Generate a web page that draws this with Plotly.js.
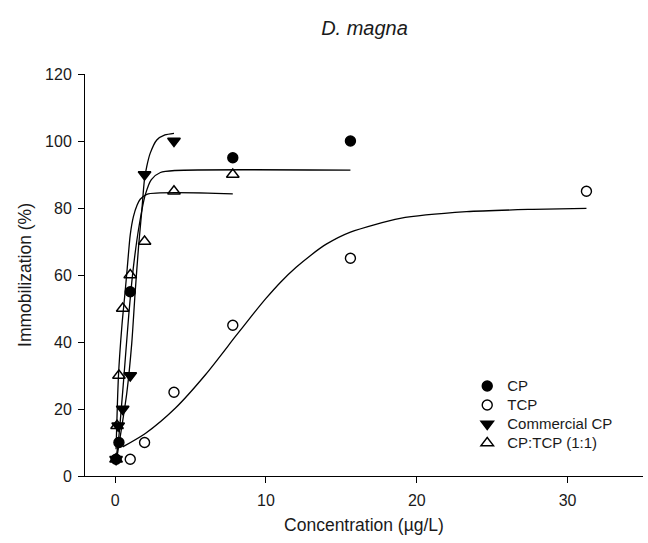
<!DOCTYPE html>
<html>
<head>
<meta charset="utf-8">
<script src="https://cdn.plot.ly/plotly-3.0.1.min.js"></script>
<style>html,body{margin:0;padding:0;background:#fff;}#chart{width:648px;height:543px;}</style>
</head>
<body>
<div id="chart"></div>
<script>
// Observed data (concentration in µg/L, immobilization in %)
const cpX = [0.06, 0.25, 1, 7.8, 15.6];
const cpY = [5, 10, 55, 95, 100];
const tcpX = [1, 1.95, 3.9, 7.8, 15.6, 31.25];
const tcpY = [5, 10, 25, 45, 65, 85];
const comX = [0.06, 0.2, 0.5, 1, 1.95, 3.9];
const comY = [5, 15, 20, 30, 90, 100];
const mixX = [0.06, 0.125, 0.25, 0.5, 1, 1.95, 3.9, 7.8];
const mixY = [5, 15, 30, 50, 60, 70, 85, 90];

// Fitted curves
const cpFitX = [0.06, 0.25, 0.55, 0.9, 1.2, 1.6, 2.0, 2.4, 3.0, 4.0, 15.6];
const cpFitY = [5, 12, 28, 48, 62, 75, 84, 88.5, 90.6, 91.2, 91.3];
const tcpFitX = [0.5, 2, 4, 6, 8, 9, 10, 11, 12, 13, 14, 15.6, 18.9, 23.3, 27.7, 31.25];
const tcpFitY = [8.7, 12.7, 20.3, 30.3, 41.8, 47.5, 53, 58, 62.3, 66, 69.2, 72.8, 76.9, 78.9, 79.6, 79.9];
const comFitX = [0.06, 0.44, 0.77, 1.1, 1.32, 1.55, 1.77, 1.94, 2.1, 2.32, 2.76, 3.3, 3.9];
const comFitY = [4, 14.7, 24.7, 39.6, 54.5, 68.4, 79.4, 88.4, 92.5, 96.3, 100.3, 101.8, 102.3];
const mixFitX = [0.06, 0.22, 0.45, 0.66, 0.8, 1.0, 1.21, 1.45, 1.66, 2.1, 7.8];
const mixFitY = [8, 30, 45, 55, 62, 72, 77.4, 80.8, 82.6, 84.1, 84.2];

const names = ['CP', 'TCP', 'Commercial CP', 'CP:TCP (1:1)'];

const lineStyle = {color: '#000', width: 1.3, shape: 'spline', smoothing: 0.7};
function fit(x, y) {
  return {x: x, y: y, mode: 'lines', line: lineStyle, showlegend: false, hoverinfo: 'skip'};
}
function pts(x, y, name, symbol, size) {
  return {x: x, y: y, mode: 'markers',
    name: '<span style="font-size:15px">' + name + '</span>',
    marker: {symbol: symbol, size: size, color: '#000', line: {color: '#000', width: 1.4}}};
}

const data = [
  fit(cpFitX, cpFitY),
  fit(tcpFitX, tcpFitY),
  fit(comFitX, comFitY),
  fit(mixFitX, mixFitY),
  pts(cpX, cpY, names[0], 'circle', 10),
  pts(tcpX, tcpY, names[1], 'circle-open', 10),
  pts(comX, comY, names[2], 'triangle-down', 11),
  pts(mixX, mixY, names[3], 'triangle-up-open', 11)
];

const font = {family: 'Liberation Sans, Arial, sans-serif', color: '#1a1a1a'};

const layout = {
  width: 648, height: 543,
  margin: {l: 85, r: 5, t: 74, b: 67},
  paper_bgcolor: '#fff', plot_bgcolor: '#fff',
  font: Object.assign({size: 15}, font),
  title: {text: '<i>D. magna</i>', x: 0.5625, xanchor: 'center', y: 0.948, yanchor: 'middle',
    font: Object.assign({size: 20}, font)},
  xaxis: {
    range: [-2, 35], tickvals: [0, 10, 20, 30], ticks: 'outside', ticklen: 6, tickwidth: 1,
    tickcolor: '#000', showline: true, linecolor: '#000', linewidth: 1, ticklabelstandoff: 4,
    showgrid: false, zeroline: false, tickfont: Object.assign({size: 16}, font),
    title: {text: 'Concentration (µg/L)', font: Object.assign({size: 17.5}, font), standoff: 10}
  },
  yaxis: {
    range: [0, 120], tickvals: [0, 20, 40, 60, 80, 100, 120], ticks: 'outside', ticklen: 6, tickwidth: 1,
    tickcolor: '#000', showline: true, linecolor: '#000', linewidth: 1, ticklabelstandoff: 3,
    showgrid: false, zeroline: false, tickfont: Object.assign({size: 16}, font),
    title: {text: 'Immobilization (%)', font: Object.assign({size: 17.5}, font), standoff: 8}
  },
  legend: {x: 0.685, y: 0.26, xanchor: 'left', yanchor: 'top', bgcolor: 'rgba(0,0,0,0)',
    font: Object.assign({size: 12}, font), tracegroupgap: 0},
  showlegend: true
};

Plotly.newPlot('chart', data, layout, {displayModeBar: false, staticPlot: true});
</script>
</body>
</html>
